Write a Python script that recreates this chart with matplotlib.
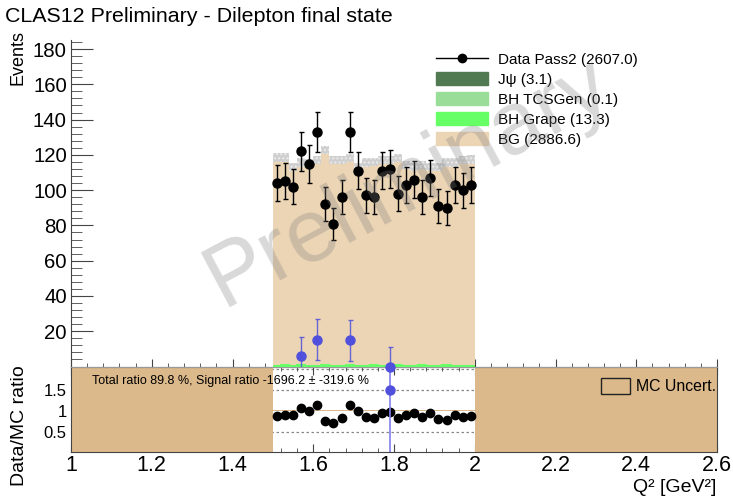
import numpy as np
import matplotlib
matplotlib.use("Agg")
import matplotlib.pyplot as plt
from matplotlib.lines import Line2D
from matplotlib.patches import Patch
from matplotlib.ticker import MultipleLocator

plt.rcParams['font.family'] = ['Liberation Sans', 'DejaVu Sans']

# Q^2 binning (GeV^2), filled range only
edges = np.round(np.arange(1.50, 2.0001, 0.02), 2)

data = [104, 105, 102, 122, 115, 133, 92, 81, 96, 133, 111, 97, 96,
        111, 112, 98, 103, 106, 96, 107, 91, 90, 103, 100, 103]
bg = [117.8, 117.8, 112.6, 115.1, 114.6, 116.5, 122.1, 116.5, 116.5,
      117.4, 112.6, 115.1, 115.1, 116.5, 116.5, 117.4, 113.6, 112.6,
      113.6, 112.6, 112.6, 115.0, 115.0, 116.5, 116.8]
bg_err = [2.4, 2.4, 2.3, 2.4, 2.4, 2.4, 2.5, 2.4, 2.4, 2.4, 2.3, 2.4, 2.4,
          2.4, 2.4, 2.4, 2.3, 2.3, 2.3, 2.3, 2.3, 2.4, 2.4, 2.4, 2.4]
grape = [0.5, 0.6, 0.5, 0.6, 0.5, 0.5, 0.6, 0.5, 0.5, 0.6, 0.5, 0.5, 0.6,
         0.5, 0.5, 0.6, 0.5, 0.5, 0.6, 0.5, 0.5, 0.6, 0.5, 0.5, 0.5]
tcsgen = [0.004, 0.004, 0.004, 0.004, 0.004, 0.004, 0.004, 0.004, 0.004,
          0.004, 0.004, 0.004, 0.004, 0.004, 0.004, 0.004, 0.004, 0.004,
          0.004, 0.004, 0.004, 0.004, 0.004, 0.004, 0.004]
jpsi = [0.1, 0.1, 0.1, 0.1, 0.1, 0.2, 0.1, 0.1, 0.2, 0.1, 0.1, 0.1, 0.2,
        0.2, 0.2, 0.1, 0.1, 0.1, 0.1, 0.2, 0.1, 0.1, 0.1, 0.1, 0.1]

# background-subtracted points
sub_x = [1.57, 1.61, 1.69, 1.79]
sub_y = [5.8, 15.3, 14.8, 0.0]
sub_err = [11.2, 11.8, 11.7, 11.0]
sig_ratio_x = [1.79]
sig_ratio_y = [1.5]
sig_ratio_err = [3.0]

legend_labels = ["Data Pass2 (2607.0)", "J\u03c8 (3.1)", "BH TCSGen (0.1)",
                 "BH Grape (13.3)", "BG (2886.6)"]

c_jpsi = '#527a52'
c_tcs = '#99dd99'
c_grape = '#66ff66'
c_bg = '#ecd5b5'
c_unc = '#dcb98a'
c_blue = '#5050dc'

data = np.array(data, float)
bg = np.array(bg)
bg_err = np.array(bg_err)
centers = 0.5 * (edges[:-1] + edges[1:])
grape_a = np.array(grape)
tcs_a = grape_a + np.array(tcsgen)
jpsi_a = tcs_a + np.array(jpsi)
mc = jpsi_a + bg

fig = plt.figure(figsize=(7.33, 4.99), dpi=100)
ax = fig.add_axes([0.0969, 0.2655, 0.8813, 0.6553])
axr = fig.add_axes([0.0969, 0.0932, 0.8813, 0.1723])
ax.set_zorder(2)
ax.patch.set_visible(False)

# stacked MC
ax.stairs(grape_a, edges, fill=True, color=c_grape, zorder=2)
ax.stairs(tcs_a, edges, baseline=grape_a, fill=True, color=c_tcs, zorder=2)
ax.stairs(jpsi_a, edges, baseline=tcs_a, fill=True, color=c_jpsi, zorder=2)
ax.stairs(mc, edges, baseline=jpsi_a, fill=True, color=c_bg, zorder=2)
ax.stairs(grape_a, edges, baseline=None, color=c_grape, lw=1.4, zorder=3)
ax.stairs(mc + bg_err, edges, baseline=mc - bg_err, fill=True,
          facecolor='#cfcfcf', edgecolor='#ececec', hatch='....',
          linewidth=0, zorder=3)

ax.errorbar(centers, data, yerr=np.sqrt(data), fmt='o', color='black',
            ms=6.5, elinewidth=1.0, capsize=1.8, capthick=1.0, zorder=5)
ax.errorbar(sub_x, sub_y, yerr=sub_err, fmt='none', ecolor=c_blue,
            elinewidth=1.0, capsize=1.8, alpha=0.85, zorder=5)
ax.plot(sub_x, sub_y, 'o', color=c_blue, ms=6.5, clip_on=False, zorder=6)

ax.set_xlim(1.0, 2.6)
ax.set_ylim(0, 185.4)
ax.set_yticks(np.arange(20, 181, 20))
ax.yaxis.set_minor_locator(MultipleLocator(4))
ax.xaxis.set_major_locator(MultipleLocator(0.2))
ax.xaxis.set_minor_locator(MultipleLocator(0.04))
ax.tick_params(axis='y', which='major', direction='in', length=15.5,
               labelsize=14.7, pad=3, color='#444444')
ax.tick_params(axis='y', which='minor', direction='in', length=7.7,
               color='#444444')
ax.tick_params(axis='x', which='major', direction='in', length=6,
               labelbottom=False, color='#444444')
ax.tick_params(axis='x', which='minor', direction='in', length=3,
               color='#444444')
for s in ('top', 'right'):
    ax.spines[s].set_visible(False)
ax.spines['left'].set_color('#444444')
ax.spines['bottom'].set_color('#999999')

handles = [Line2D([0], [0], color='black', lw=1, marker='o', ms=6),
           Patch(color=c_jpsi), Patch(color=c_tcs), Patch(color=c_grape),
           Patch(color=c_bg)]
ax.legend(handles, legend_labels, loc='upper left',
          bbox_to_anchor=(0.5948, 0.8962), bbox_transform=fig.transFigure,
          frameon=False, fontsize=11, borderpad=0, borderaxespad=0,
          handlelength=3.4, handleheight=0.95, handletextpad=0.65,
          labelspacing=0.34)

# ratio panel
ratio = data / mc
for yv in (0.5, 1.5, 2.0):
    axr.axhline(yv, color='#888888', lw=0.9, ls=(0, (2, 2)), zorder=1)
axr.axvspan(1.0, edges[0], color=c_unc, lw=0, zorder=2)
axr.axvspan(edges[-1], 2.6, color=c_unc, lw=0, zorder=2)
axr.stairs(1 + bg_err / mc, edges, baseline=1 - bg_err / mc, fill=True,
           color=c_unc, zorder=2)
axr.plot(centers, ratio, 'o', color='black', ms=6, zorder=4)
axr.errorbar(sig_ratio_x, sig_ratio_y, yerr=sig_ratio_err, fmt='o',
             color=c_blue, ecolor='#8080ee', ms=6.5, elinewidth=1.2,
             zorder=5)

axr.set_xlim(1.0, 2.6)
axr.set_ylim(0, 2.05)
axr.set_yticks([0.5, 1, 1.5])
axr.set_yticklabels(['0.5', '1', '1.5'])
axr.yaxis.set_minor_locator(MultipleLocator(0.1))
axr.xaxis.set_major_locator(MultipleLocator(0.2))
axr.xaxis.set_minor_locator(MultipleLocator(0.04))
axr.set_xticklabels([f"{v:g}" for v in axr.get_xticks()])
axr.tick_params(axis='y', which='major', direction='in', length=11,
                labelsize=12, pad=3, color='#444444')
axr.tick_params(axis='y', which='minor', direction='in', length=4,
                color='#444444')
axr.tick_params(axis='x', which='major', direction='in', length=6,
                top=True, labelsize=15.5, pad=2, color='#444444')
axr.tick_params(axis='x', which='minor', direction='in', length=3,
                top=True, color='#444444')
for s in axr.spines.values():
    s.set_color('#444444')
    s.set_zorder(6)

axr.text(0.0325, 0.83, "Total ratio 89.8 %, Signal ratio -1696.2 \u00b1 -319.6 %",
         transform=axr.transAxes, fontsize=9, va='center', zorder=7)
axr.legend([Patch(facecolor=c_unc, edgecolor='#222222', lw=1)],
           ["MC Uncert."], loc='upper left', bbox_to_anchor=(0.8199, 0.2425),
           bbox_transform=fig.transFigure, frameon=False, fontsize=11.4,
           borderpad=0, borderaxespad=0, handlelength=1.84,
           handleheight=1.2, handletextpad=0.38)

fig.text(0.007, 0.966, "CLAS12 Preliminary - Dilepton final state",
         fontsize=15.4, va='center', ha='left')
fig.text(0.025, 0.94, "Events", rotation=90, fontsize=13, ha='center',
         va='top')
fig.text(0.027, 0.268, "Data/MC ratio", rotation=90, fontsize=14,
         ha='center', va='top')
fig.text(0.977, 0.006, "Q\u00b2 [GeV\u00b2]", fontsize=14, ha='right',
         va='bottom')
fig.text(0.557, 0.635, "Preliminary", rotation=28, fontsize=64,
         color='#808080', alpha=0.3, ha='center', va='center', zorder=10)

fig.savefig("out.png", dpi=100)
